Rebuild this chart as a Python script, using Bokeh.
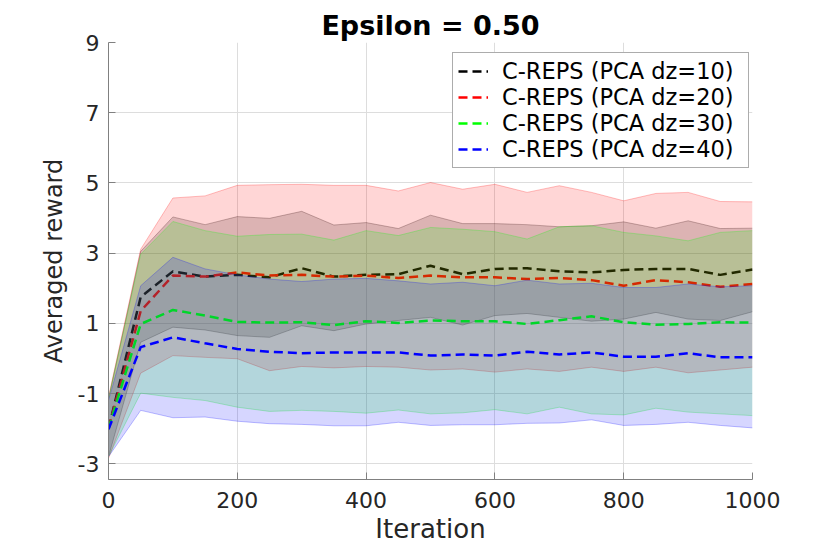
from bokeh.plotting import figure
from bokeh.models import Range1d, FixedTicker, Legend, LegendItem
from bokeh.embed import file_html
from bokeh.resources import INLINE

iterations = [0, 50, 100, 150, 200, 250, 300, 350, 400, 450, 500,
              550, 600, 650, 700, 750, 800, 850, 900, 950, 1000]

labels = ["C-REPS (PCA dz=10)", "C-REPS (PCA dz=20)",
          "C-REPS (PCA dz=30)", "C-REPS (PCA dz=40)"]

dz10_mean = [-2.0, 1.75, 2.48, 2.33, 2.38, 2.31, 2.57, 2.33, 2.38, 2.40, 2.64,
             2.40, 2.55, 2.57, 2.48, 2.45, 2.52, 2.55, 2.55, 2.38, 2.53]
dz10_hi = [-1.15, 3.05, 4.03, 3.81, 4.04, 3.99, 4.19, 3.80, 3.87, 3.70, 4.08,
           3.84, 3.84, 3.81, 3.75, 3.78, 3.89, 3.71, 3.92, 3.70, 3.71]
dz10_lo = [-2.80, 0.46, 0.89, 0.81, 0.65, 0.60, 0.93, 0.79, 0.98, 1.08, 1.17,
           0.95, 1.22, 1.28, 1.17, 1.06, 1.12, 1.31, 1.12, 1.08, 1.33]

dz20_mean = [-1.98, 1.35, 2.36, 2.33, 2.45, 2.36, 2.38, 2.33, 2.36, 2.29, 2.36,
             2.31, 2.31, 2.26, 2.29, 2.23, 2.07, 2.23, 2.17, 2.04, 2.12]
dz20_hi = [-1.10, 3.11, 4.57, 4.63, 4.93, 4.95, 4.96, 4.93, 4.93, 4.77, 5.01,
           4.82, 4.96, 4.73, 4.92, 4.73, 4.49, 4.70, 4.73, 4.47, 4.46]
dz20_lo = [-2.85, -0.42, 0.08, 0.03, -0.01, -0.35, -0.23, -0.27, -0.23, -0.25, -0.33,
           -0.30, -0.39, -0.30, -0.37, -0.25, -0.37, -0.25, -0.41, -0.33, -0.25]

dz30_mean = [-2.0, 0.98, 1.38, 1.22, 1.04, 1.02, 1.03, 0.95, 1.06, 1.01, 1.08,
             1.06, 1.06, 0.98, 1.09, 1.20, 1.03, 0.96, 0.98, 1.03, 1.02]
dz30_hi = [-1.15, 2.97, 3.90, 3.64, 3.48, 3.53, 3.54, 3.37, 3.64, 3.50, 3.73,
           3.68, 3.61, 3.40, 3.75, 3.78, 3.59, 3.49, 3.35, 3.59, 3.64]
dz30_lo = [-2.80, -0.99, -1.11, -1.20, -1.39, -1.51, -1.48, -1.51, -1.56, -1.47, -1.58,
           -1.55, -1.46, -1.58, -1.39, -1.58, -1.61, -1.42, -1.53, -1.58, -1.63]

dz40_mean = [-2.02, 0.32, 0.60, 0.43, 0.27, 0.19, 0.15, 0.17, 0.17, 0.17, 0.08,
             0.11, 0.08, 0.19, 0.11, 0.17, 0.05, 0.05, 0.15, 0.03, 0.03]
dz40_hi = [-1.20, 2.07, 2.88, 2.55, 2.38, 2.26, 2.19, 2.26, 2.28, 2.21, 2.12,
           2.17, 2.07, 2.23, 2.12, 2.14, 2.02, 2.02, 2.12, 2.04, 2.07]
dz40_lo = [-2.80, -1.48, -1.69, -1.67, -1.79, -1.86, -1.88, -1.92, -1.92, -1.82, -1.91,
           -1.89, -1.89, -1.85, -1.84, -1.75, -1.91, -1.88, -1.82, -1.91, -1.98]

colors = ["#000000", "#ff0000", "#00ff00", "#0000ff"]
x_ticks = [0, 200, 400, 600, 800, 1000]
y_ticks = [-3, -1, 1, 3, 5, 7, 9]
y_tick_labels = ["-3", "-1", "1", "3", "5", "7", "9"]

FONT = "DejaVu Sans"

p = figure(width=830, height=551, output_backend="svg", toolbar_location=None,
           x_range=Range1d(0, 1000), y_range=Range1d(-3.45, 9),
           min_border_left=108, min_border_right=78,
           min_border_top=42, min_border_bottom=72,
           title="Epsilon = 0.50")
p.outline_line_color = None
p.background_fill_color = "white"
p.border_fill_color = "white"

p.title.align = "center"
p.title.text_font = FONT
p.title.text_font_size = "27px"
p.title.text_font_style = "bold"
p.title.text_color = "#000000"
p.title.standoff = 4

for ax in (p.xaxis[0], p.yaxis[0]):
    ax.axis_line_color = "#808080"
    ax.axis_line_width = 1
    ax.major_tick_line_color = "#808080"
    ax.major_tick_in = 7
    ax.major_tick_out = 0
    ax.minor_tick_line_color = None
    ax.major_label_text_font = FONT
    ax.major_label_text_font_size = "22px"
    ax.major_label_text_color = "#262626"
    ax.axis_label_text_font = FONT
    ax.axis_label_text_font_style = "normal"
    ax.axis_label_text_color = "#262626"

p.xaxis.ticker = FixedTicker(ticks=x_ticks)
p.yaxis.ticker = FixedTicker(ticks=y_ticks)
p.yaxis.major_label_overrides = {t: s for t, s in zip(y_ticks, y_tick_labels)}
p.xaxis.axis_label = "Iteration"
p.yaxis.axis_label = "Averaged reward"
p.xaxis.axis_label_text_font_size = "26px"
p.yaxis.axis_label_text_font_size = "24px"
p.xaxis.major_label_standoff = 12
p.xaxis.axis_label_standoff = 3
p.yaxis.major_label_standoff = 9
p.yaxis.axis_label_standoff = 7

p.xgrid.ticker = FixedTicker(ticks=x_ticks)
p.ygrid.ticker = FixedTicker(ticks=y_ticks)
p.grid.grid_line_color = "#dddddd"
p.grid.grid_line_width = 1

series = [
    (dz10_mean, dz10_lo, dz10_hi),
    (dz20_mean, dz20_lo, dz20_hi),
    (dz30_mean, dz30_lo, dz30_hi),
    (dz40_mean, dz40_lo, dz40_hi),
]

items = []
for (mean, lo, hi), col, lab in zip(series, colors, labels):
    p.varea(x=iterations, y1=lo, y2=hi, fill_color=col, fill_alpha=0.16)
    p.line(iterations, hi, line_color=col, line_alpha=0.25, line_width=1)
    p.line(iterations, lo, line_color=col, line_alpha=0.25, line_width=1)
    r = p.line(iterations, mean, line_color=col, line_width=2.5, line_dash="9 5")
    items.append(LegendItem(label=lab, renderers=[r]))

legend = Legend(items=items, location=(344, 311), margin=0, padding=5,
                glyph_width=30, glyph_height=26, label_height=26, label_width=241,
                label_standoff=14, spacing=0,
                label_text_font=FONT, label_text_font_size="22.5px",
                label_text_color="#000000",
                border_line_color="#5a5a5a", border_line_width=1,
                background_fill_color="white", background_fill_alpha=1.0)
p.add_layout(legend)

open("out.html", "w").write(file_html(p, INLINE))
